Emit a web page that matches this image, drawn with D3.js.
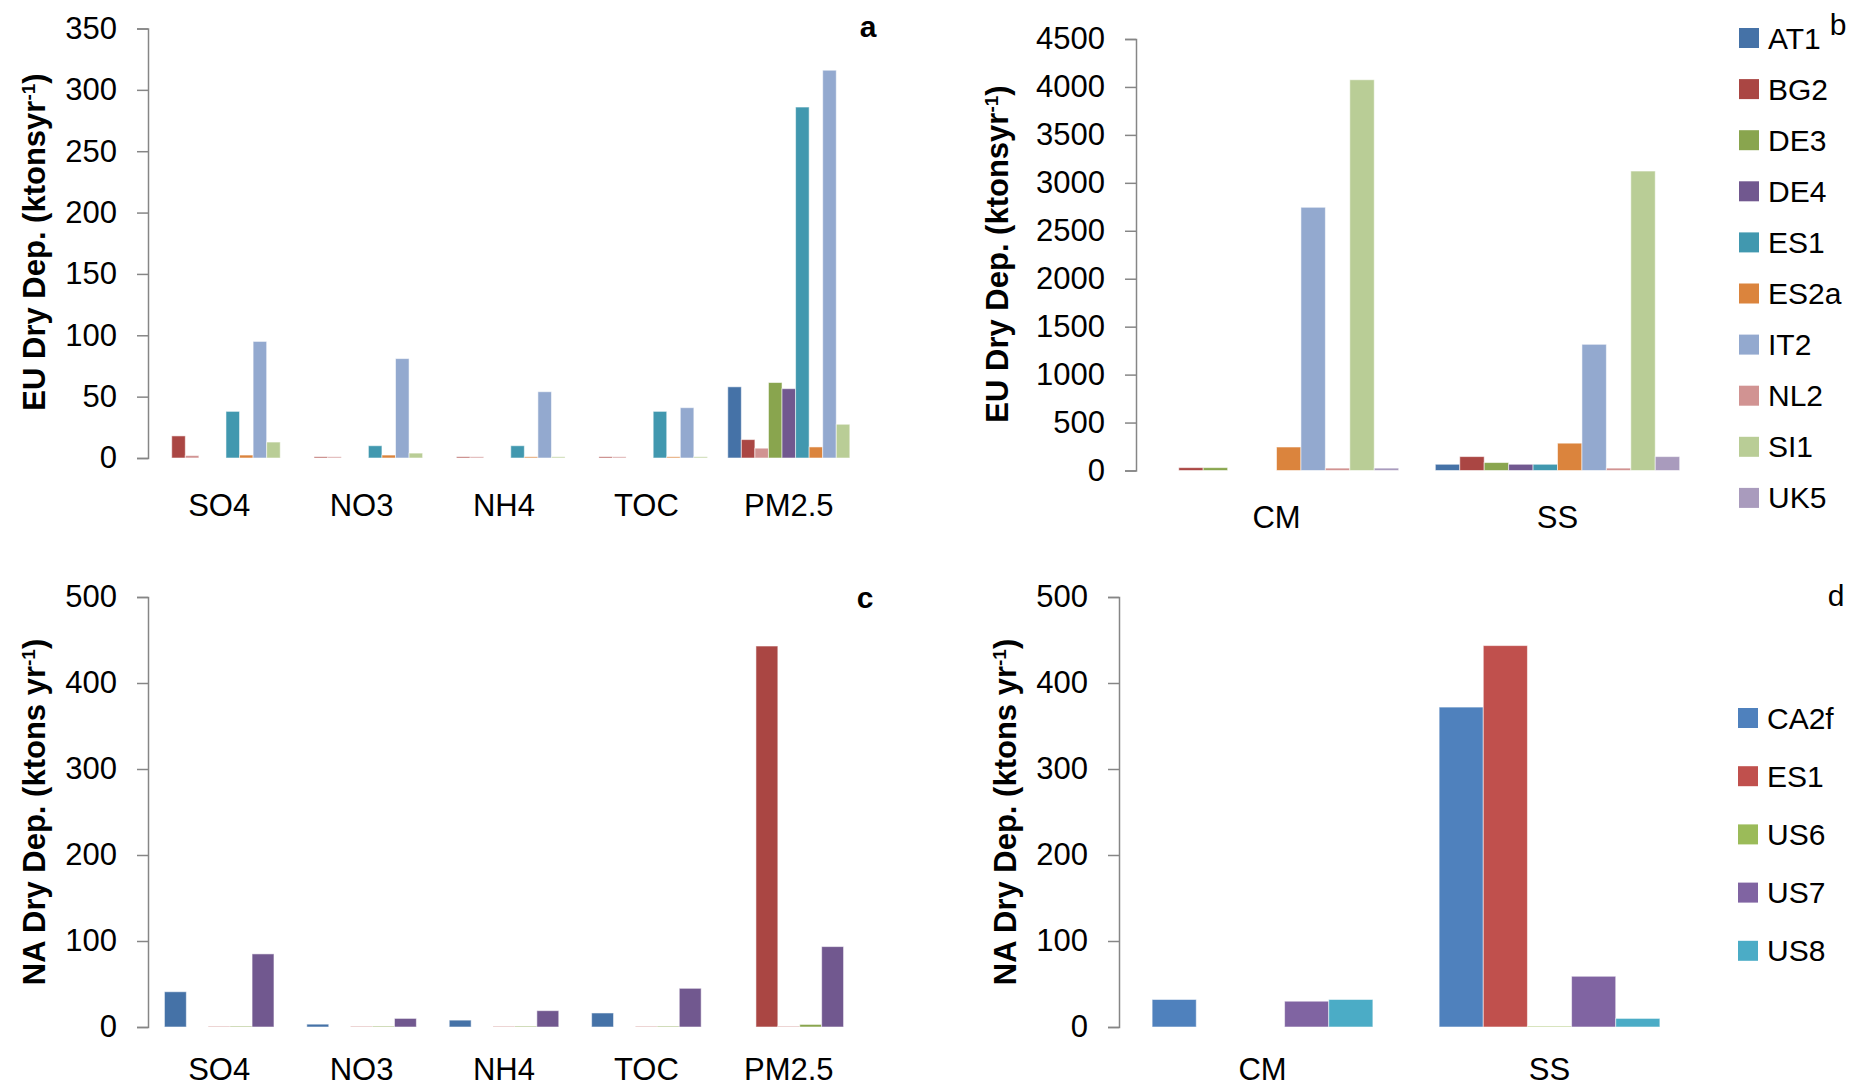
<!DOCTYPE html>
<html>
<head>
<meta charset="utf-8">
<script src="https://cdn.jsdelivr.net/npm/d3@7"></script>
<style>
  html, body { margin: 0; padding: 0; background: #fff; }
  svg { display: block; }
  .tick text { font-family: "Liberation Sans", Arial, sans-serif; fill: #000; }
</style>
</head>
<body>
<svg id="chart" width="1854" height="1090"></svg>
<script>
// ---------- Panel a (EU, species) ----------
const categoriesA = ["SO4", "NO3", "NH4", "TOC", "PM2.5"];
const seriesA = ["AT1", "BG2", "NL2", "DE3", "DE4", "ES1", "ES2a", "IT2", "SI1"];
const colorsA = ["#4572A7", "#AA4643", "#D19392", "#89A54E", "#71588F", "#4198AF", "#DB843D", "#93A9CF", "#B9CD96"];
const AT1_a  = [0, 0, 0, 0, 58];
const BG2_a  = [18, 1, 1, 1, 15];
const NL2_a  = [2, 1, 1, 1, 8];
const DE3_a  = [0, 0, 0, 0, 61.5];
const DE4_a  = [0, 0, 0, 0, 56.5];
const ES1_a  = [38, 10, 10, 38, 286];
const ES2a_a = [2.4, 2.4, 1, 1, 9];
const IT2_a  = [95, 81, 54, 41, 316];
const SI1_a  = [13, 4, 1, 1, 27.5];
const ticksA = [0, 50, 100, 150, 200, 250, 300, 350];

// ---------- Panel b (EU, CM / SS) ----------
const categoriesB = ["CM", "SS"];
const seriesB = ["AT1", "BG2", "DE3", "DE4", "ES1", "ES2a", "IT2", "NL2", "SI1", "UK5"];
const colorsB = ["#4572A7", "#AA4643", "#89A54E", "#71588F", "#4198AF", "#DB843D", "#93A9CF", "#D19392", "#B9CD96", "#A99BBD"];
const AT1_b  = [0, 65];
const BG2_b  = [30, 145];
const DE3_b  = [30, 83];
const DE4_b  = [0, 65];
const ES1_b  = [0, 65];
const ES2a_b = [245, 285];
const IT2_b  = [2745, 1316];
const NL2_b  = [25, 25];
const SI1_b  = [4075, 3123];
const UK5_b  = [25, 145];
const ticksB = [0, 500, 1000, 1500, 2000, 2500, 3000, 3500, 4000, 4500];

// ---------- Panel c (NA, species) ----------
const categoriesC = ["SO4", "NO3", "NH4", "TOC", "PM2.5"];
const seriesC = ["CA2f", "ES1", "US6", "US7", "US8"];
const colorsC = ["#4572A7", "#AA4643", "#D19392", "#89A54E", "#71588F"];
const s1_c = [41, 3.3, 8, 16.3, 0];
const s2_c = [0, 0, 0, 0, 443];
const s3_c = [1, 1, 1, 1, 1];
const s4_c = [1, 1, 1, 1, 3];
const s5_c = [85, 10, 19, 45, 93.5];
const ticksC = [0, 100, 200, 300, 400, 500];

// ---------- Panel d (NA, CM / SS) ----------
const categoriesD = ["CM", "SS"];
const seriesD = ["CA2f", "ES1", "US6", "US7", "US8"];
const colorsD = ["#4F81BD", "#C0504D", "#9BBB59", "#8064A2", "#4BACC6"];
const CA2f_d = [32, 372];
const ES1_d  = [0, 443.5];
const US6_d  = [0, 1];
const US7_d  = [30, 59];
const US8_d  = [32, 10];
const ticksD = [0, 100, 200, 300, 400, 500];

const svg = d3.select("#chart");

function panel(opt) {
  const { categories, series, colors, values, ticks, left, right, zeroY, topY, maxV,
          catOffset, title, titleX, titleY, titleSpace, label, labelX, labelY, labelBold } = opt;
  const g = svg.append("g");
  const x = d3.scaleBand().domain(categories).range([left, right]).padding(0);
  const y = d3.scaleLinear().domain([0, maxV]).range([zeroY, topY]);
  const n = series.length;
  const slot = x.bandwidth() / (n + 1.5);
  const x1 = d3.scaleBand().domain(series).range([0, slot * n]).padding(0);
  const off = slot * 0.75;

  // bars
  series.forEach((s, i) => {
    g.append("g").selectAll("rect")
      .data(categories.map((c, k) => ({ c, v: values[i][k] })))
      .join("rect")
      .filter(d => d.v > 0)
      .attr("x", d => x(d.c) + off + x1(s))
      .attr("width", x1.bandwidth())
      .attr("y", d => y(d.v))
      .attr("height", d => y(0) - y(d.v))
      .attr("fill", colors[i])
      .attr("stroke", "rgba(255,255,255,0.55)")
      .attr("stroke-width", 1);
  });

  // y axis
  const ax = g.append("g")
    .attr("transform", `translate(${left},0)`)
    .call(d3.axisLeft(y).tickValues(ticks).tickFormat(d3.format("d")).tickSize(11).tickPadding(20));
  ax.select(".domain").attr("stroke", "#868686").attr("stroke-width", 1.5);
  ax.selectAll(".tick line").attr("stroke", "#868686").attr("stroke-width", 1.5);
  ax.selectAll(".tick text").attr("font-size", 31);

  // category labels
  g.append("g").selectAll("text")
    .data(categories).join("text")
    .attr("x", d => x(d) + x.bandwidth() / 2)
    .attr("y", zeroY + catOffset)
    .attr("text-anchor", "middle")
    .attr("font-family", "'Liberation Sans', Arial, sans-serif")
    .attr("font-size", 31)
    .text(d => d);

  // y title
  const t = g.append("text")
    .attr("transform", `translate(${titleX},${titleY}) rotate(-90)`)
    .attr("text-anchor", "middle")
    .attr("dy", "0.35em")
    .attr("font-family", "'Liberation Sans', Arial, sans-serif")
    .attr("font-weight", "bold")
    .attr("font-size", 31);
  t.append("tspan").text(title + " (ktons" + (titleSpace ? " " : "") + "yr");
  t.append("tspan").attr("baseline-shift", "super").attr("font-size", 19).text("-1");
  t.append("tspan").text(")");

  // panel letter
  g.append("text")
    .attr("x", labelX).attr("y", labelY)
    .attr("font-family", "'Liberation Sans', Arial, sans-serif")
    .attr("font-weight", labelBold ? "bold" : "normal")
    .attr("font-size", 30)
    .attr("text-anchor", "middle")
    .attr("dy", "0.35em")
    .text(label);
}

function legend(names, colors, x0, y0, step) {
  const g = svg.append("g");
  const item = g.selectAll("g").data(names).join("g")
    .attr("transform", (d, i) => `translate(${x0},${y0 + i * step})`);
  item.append("rect").attr("x", 0).attr("y", -10).attr("width", 20).attr("height", 20)
    .attr("fill", (d, i) => colors[i]);
  item.append("text").attr("x", 29).attr("y", 0).attr("dy", "0.35em")
    .attr("font-family", "'Liberation Sans', Arial, sans-serif")
    .attr("font-size", 30)
    .text(d => d);
}

panel({
  categories: categoriesA, series: seriesA, colors: colorsA,
  values: [AT1_a, BG2_a, NL2_a, DE3_a, DE4_a, ES1_a, ES2a_a, IT2_a, SI1_a],
  ticks: ticksA, left: 148, right: 860, zeroY: 458, topY: 28.5, maxV: 350, catOffset: 58,
  title: "EU Dry Dep.", titleX: 34, titleY: 242, titleSpace: false,
  label: "a", labelX: 868, labelY: 26, labelBold: true
});
panel({
  categories: categoriesB, series: seriesB, colors: colorsB,
  values: [AT1_b, BG2_b, DE3_b, DE4_b, ES1_b, ES2a_b, IT2_b, NL2_b, SI1_b, UK5_b],
  ticks: ticksB, left: 1136, right: 1698, zeroY: 470.5, topY: 39, maxV: 4500, catOffset: 57,
  title: "EU Dry Dep.", titleX: 997, titleY: 254, titleSpace: false,
  label: "b", labelX: 1838, labelY: 24, labelBold: false
});
panel({
  categories: categoriesC, series: seriesC, colors: colorsC,
  values: [s1_c, s2_c, s3_c, s4_c, s5_c],
  ticks: ticksC, left: 148, right: 860, zeroY: 1027, topY: 597, maxV: 500, catOffset: 53,
  title: "NA Dry Dep.", titleX: 34, titleY: 812, titleSpace: true,
  label: "c", labelX: 865, labelY: 597, labelBold: true
});
panel({
  categories: categoriesD, series: seriesD, colors: colorsD,
  values: [CA2f_d, ES1_d, US6_d, US7_d, US8_d],
  ticks: ticksD, left: 1119, right: 1693, zeroY: 1027, topY: 597, maxV: 500, catOffset: 53,
  title: "NA Dry Dep.", titleX: 1005, titleY: 812, titleSpace: true,
  label: "d", labelX: 1836, labelY: 595, labelBold: false
});

legend(seriesB, colorsB, 1739, 38, 51.1);
legend(seriesD, colorsD, 1738, 718, 58.2);
</script>
</body>
</html>
